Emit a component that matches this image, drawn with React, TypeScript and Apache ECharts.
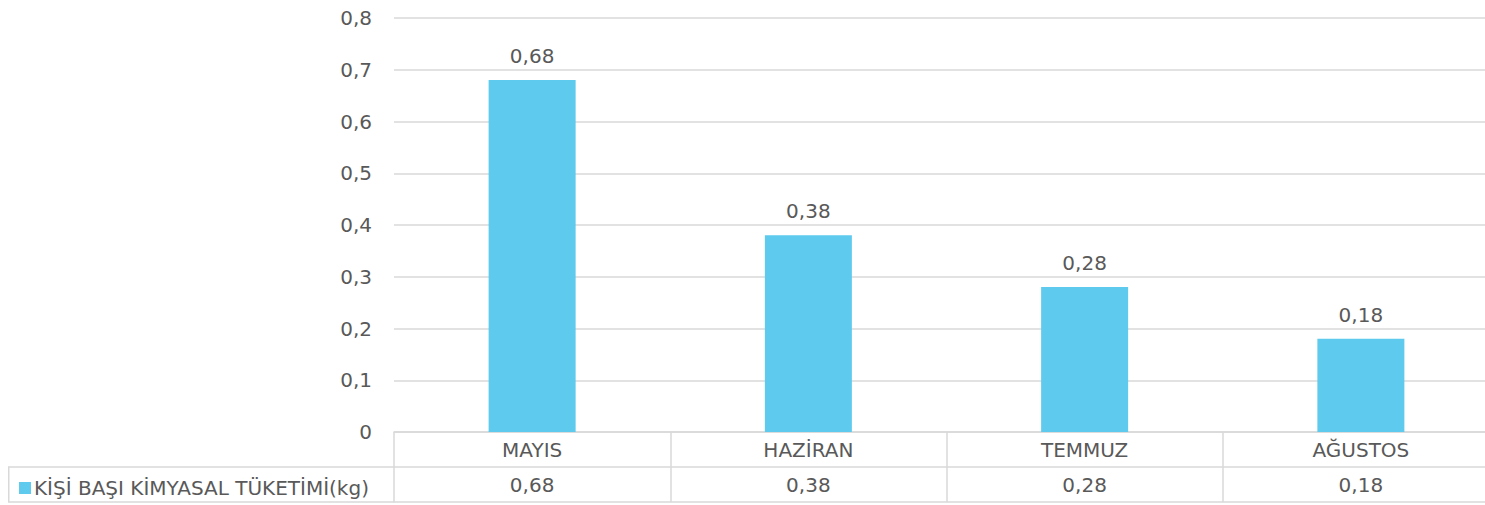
import React, { useEffect, useRef } from "react";
import * as echarts from "echarts";

const categories = ["MAYIS", "HAZİRAN", "TEMMUZ", "AĞUSTOS"];
const values = [0.68, 0.38, 0.28, 0.18];
const seriesName = "KİŞİ BAŞI KİMYASAL TÜKETİMİ(kg)";
const yMin = 0;
const yMax = 0.8;
const yInterval = 0.1;

const TEXT = "#595959";
const GRID = "#d9d9d9";
const BAR = "#5ECBEE";
const FONT = "'DejaVu Sans', 'Noto Sans', sans-serif";
const FS = 20;

const fmt2 = (v: number) => v.toFixed(2).replace(".", ",");
const fmtAxis = (v: number) => (v === 0 ? "0" : v.toFixed(1).replace(".", ","));

export default function App() {
  const ref = useRef<HTMLDivElement>(null);
  useEffect(() => {
    const chart = echarts.init(ref.current!, null, { renderer: "svg" });
    chart.setOption({
      animation: false,
      textStyle: { fontFamily: FONT, color: TEXT },
      grid: { left: 394, right: 1, top: 18, bottom: 73, containLabel: false },
      legend: {
        left: 19,
        top: 478,
        itemWidth: 12,
        itemHeight: 12,
        itemGap: 0,
        padding: 0,
        icon: "rect",
        textStyle: { fontFamily: FONT, color: TEXT, fontSize: FS, padding: [0, 0, 0, -2] },
        data: [seriesName],
      },
      xAxis: [
        {
          type: "category",
          data: categories,
          position: "bottom",
          axisLine: { show: true, lineStyle: { color: GRID, width: 1.5 } },
          axisTick: { show: true, length: 70, lineStyle: { color: GRID, width: 1.5 } },
          axisLabel: { color: TEXT, fontSize: FS, fontFamily: FONT, margin: 8 },
        },
        {
          type: "category",
          data: values.map(fmt2),
          position: "bottom",
          offset: 35,
          axisLine: { show: true, lineStyle: { color: GRID, width: 1.5 } },
          axisTick: { show: false },
          axisLabel: { color: TEXT, fontSize: FS, fontFamily: FONT, margin: 8 },
        },
        {
          type: "category",
          data: categories,
          position: "bottom",
          offset: 70,
          axisLine: { show: true, lineStyle: { color: GRID, width: 1.5 } },
          axisTick: { show: false },
          axisLabel: { show: false },
        },
      ],
      yAxis: {
        type: "value",
        min: yMin,
        max: yMax,
        interval: yInterval,
        axisLine: { show: false },
        axisTick: { show: false },
        splitLine: { lineStyle: { color: GRID, width: 1.5 } },
        axisLabel: { color: TEXT, fontSize: FS, fontFamily: FONT, margin: 22, formatter: fmtAxis },
      },
      series: [
        {
          name: seriesName,
          type: "bar",
          xAxisIndex: 0,
          data: values,
          barWidth: 87,
          itemStyle: { color: BAR },
          label: {
            show: true,
            position: "top",
            distance: 14,
            color: TEXT,
            fontSize: FS,
            fontFamily: FONT,
            formatter: (p: any) => fmt2(p.value),
          },
        },
      ],
      graphic: [
        {
          type: "polyline",
          shape: { points: [[394, 467], [8.75, 467], [8.75, 502], [394, 502]] },
          style: { stroke: GRID, lineWidth: 1.5, fill: "none" },
        },
      ],
    });
    return () => chart.dispose();
  }, []);
  return (
    <div style={{ position: "absolute", left: 0, top: 0, width: 1485, height: 505, overflow: "hidden", background: "#fff" }}>
      <div ref={ref} style={{ position: "absolute", left: 0, top: 0, width: 1500, height: 505 }} />
    </div>
  );
}
